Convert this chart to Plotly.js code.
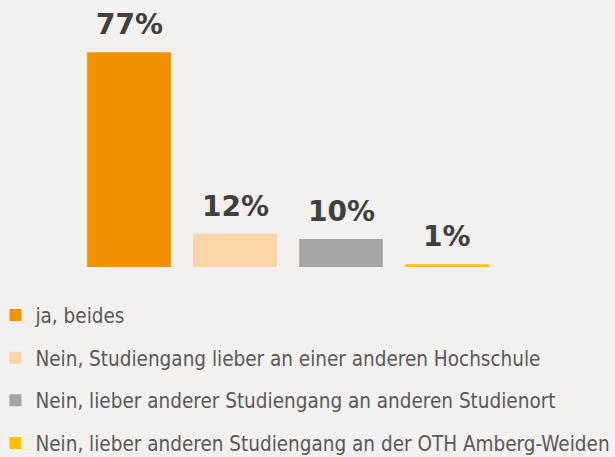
<!DOCTYPE html>
<html><head><meta charset="utf-8">
<script src="https://cdn.plot.ly/plotly-3.0.1.min.js"></script>
<style>html,body{margin:0;padding:0;background:#f2f1ef;}</style>
</head><body>
<div id="chart" style="width:615px;height:457px;"></div>
<script>
const categories = ["ja, beides", "Nein, Studiengang lieber an einer anderen Hochschule", "Nein, lieber anderer Studiengang an anderen Studienort", "Nein, lieber anderen Studiengang an der OTH Amberg-Weiden"];
const values = [77, 12, 10, 1];
const labels = ["77%", "12%", "10%", "1%"];
const colors = ["#f39200", "#fbd5a7", "#a5a5a5", "#ffc000"];

const traces = categories.map((c, i) => ({
  type: "bar", x: [i], y: [values[i]], name: c,
  marker: {color: colors[i]}, legendgroup: "g" + i,
  hoverinfo: "skip"
}));

const annotations = categories.map((c, i) => ({
  x: i, y: values[i], xref: "x", yref: "y", text: "<b>" + labels[i] + "</b>",
  showarrow: false, yanchor: "bottom", yshift: 9,
  font: {family: "DejaVu Sans", size: 28, color: "#404040"}
}));

const layout = {
  width: 615, height: 457,
  margin: {l: 76, r: 115, t: 16, b: 190},
  paper_bgcolor: "#f2f1ef", plot_bgcolor: "#f2f1ef",
  barmode: "overlay", bargap: 0.21,
  xaxis: {range: [-0.5, 3.5], showgrid: false, zeroline: false, showticklabels: false, showline: false, fixedrange: true},
  yaxis: {range: [0, 90], showgrid: false, zeroline: false, showticklabels: false, showline: false, fixedrange: true},
  showlegend: true,
  legend: {orientation: "v", xref: "paper", x: -0.19, xanchor: "left",
    yref: "container", y: 0.354, yanchor: "top",
    font: {family: "DejaVu Sans Condensed", size: 20.5, color: "#595959"},
    tracegroupgap: 13, bgcolor: "rgba(0,0,0,0)", itemclick: false},
  annotations: annotations
};
Plotly.newPlot("chart", traces, layout, {displayModeBar: false, staticPlot: true});
</script>
</body></html>
